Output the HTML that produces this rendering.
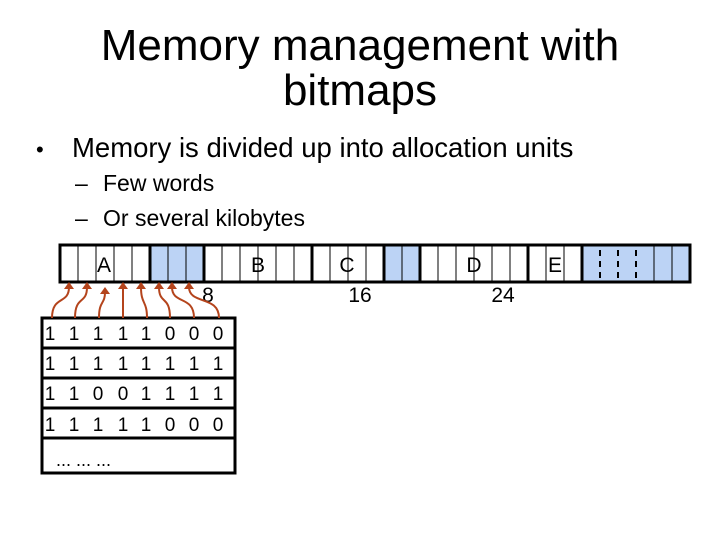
<!DOCTYPE html>
<html><head><meta charset="utf-8"><style>
html,body{margin:0;padding:0;background:#fff}
svg{display:block}
text{font-family:"Liberation Sans",Arial,sans-serif;fill:#000}
</style></head><body>
<svg width="720" height="540" viewBox="0 0 720 540" xmlns="http://www.w3.org/2000/svg">
<text x="360" y="60" font-size="44" text-anchor="middle">Memory management with</text>
<text x="360" y="105" font-size="44" text-anchor="middle">bitmaps</text>
<text x="36" y="157" font-size="22">•</text>
<text x="72" y="157" font-size="27.5">Memory is divided up into allocation units</text>
<text x="75" y="191" font-size="23">–</text>
<text x="103" y="191" font-size="23">Few words</text>
<text x="75" y="226" font-size="23">–</text>
<text x="103" y="226" font-size="23">Or several kilobytes</text>

<!-- strip fills -->
<rect x="150" y="245" width="54" height="37" fill="#bcd3f5"/>
<rect x="384" y="245" width="36" height="37" fill="#bcd3f5"/>
<rect x="582" y="245" width="108" height="37" fill="#bcd3f5"/>
<!-- thin cell lines -->
<g stroke="#000" stroke-width="1">
<line x1="78" y1="245" x2="78" y2="282"/><line x1="96" y1="245" x2="96" y2="282"/><line x1="114" y1="245" x2="114" y2="282"/><line x1="132" y1="245" x2="132" y2="282"/>
<line x1="168" y1="245" x2="168" y2="282"/><line x1="186" y1="245" x2="186" y2="282"/>
<line x1="222" y1="245" x2="222" y2="282"/><line x1="240" y1="245" x2="240" y2="282"/><line x1="258" y1="245" x2="258" y2="282"/><line x1="276" y1="245" x2="276" y2="282"/><line x1="294" y1="245" x2="294" y2="282"/>
<line x1="330" y1="245" x2="330" y2="282"/><line x1="348" y1="245" x2="348" y2="282"/><line x1="366" y1="245" x2="366" y2="282"/>
<line x1="402" y1="245" x2="402" y2="282"/>
<line x1="438" y1="245" x2="438" y2="282"/><line x1="456" y1="245" x2="456" y2="282"/><line x1="474" y1="245" x2="474" y2="282"/><line x1="492" y1="245" x2="492" y2="282"/><line x1="510" y1="245" x2="510" y2="282"/>
<line x1="546" y1="245" x2="546" y2="282"/><line x1="564" y1="245" x2="564" y2="282"/>
<line x1="654" y1="245" x2="654" y2="282"/><line x1="672" y1="245" x2="672" y2="282"/>
</g>
<g stroke="#000" stroke-width="2" stroke-dasharray="6,5">
<line x1="600" y1="250" x2="600" y2="282"/><line x1="618" y1="250" x2="618" y2="282"/><line x1="636" y1="250" x2="636" y2="282"/>
</g>
<!-- thick borders -->
<g stroke="#000" stroke-width="3" fill="none">
<rect x="60" y="245" width="630" height="37"/>
<line x1="150" y1="245" x2="150" y2="282"/><line x1="204" y1="245" x2="204" y2="282"/>
<line x1="312" y1="245" x2="312" y2="282"/><line x1="384" y1="245" x2="384" y2="282"/>
<line x1="420" y1="245" x2="420" y2="282"/><line x1="528" y1="245" x2="528" y2="282"/>
<line x1="582" y1="245" x2="582" y2="282"/>
</g>
<g font-size="21" text-anchor="middle">
<text x="104" y="272">A</text><text x="258" y="272">B</text><text x="347" y="272">C</text><text x="474" y="272">D</text><text x="555" y="272">E</text>
<text x="208" y="302">8</text><text x="360" y="302">16</text><text x="503" y="302">24</text>
</g>

<!-- bitmap table -->
<g stroke="#000" stroke-width="3" fill="none">
<rect x="42" y="318" width="193" height="155"/>
<line x1="42" y1="348" x2="235" y2="348"/><line x1="42" y1="378" x2="235" y2="378"/>
<line x1="42" y1="408" x2="235" y2="408"/><line x1="42" y1="438" x2="235" y2="438"/>
</g>
<g font-size="19" text-anchor="middle">
<text y="340"><tspan x="50">1</tspan><tspan x="74">1</tspan><tspan x="98">1</tspan><tspan x="123">1</tspan><tspan x="146">1</tspan><tspan x="170">0</tspan><tspan x="194">0</tspan><tspan x="218">0</tspan></text>
<text y="370"><tspan x="50">1</tspan><tspan x="74">1</tspan><tspan x="98">1</tspan><tspan x="123">1</tspan><tspan x="146">1</tspan><tspan x="170">1</tspan><tspan x="194">1</tspan><tspan x="218">1</tspan></text>
<text y="400"><tspan x="50">1</tspan><tspan x="74">1</tspan><tspan x="98">0</tspan><tspan x="123">0</tspan><tspan x="146">1</tspan><tspan x="170">1</tspan><tspan x="194">1</tspan><tspan x="218">1</tspan></text>
<text y="431"><tspan x="50">1</tspan><tspan x="74">1</tspan><tspan x="98">1</tspan><tspan x="123">1</tspan><tspan x="146">1</tspan><tspan x="170">0</tspan><tspan x="194">0</tspan><tspan x="218">0</tspan></text>
</g>
<text x="56" y="466" font-size="18">... ... ...</text>

<!-- arrows -->
<g stroke="#b4441c" stroke-width="2" fill="none">
<path d="M52 318 C52 295,69 305,69 287"/>
<path d="M75 318 C75 295,87 305,87 287"/>
<path d="M99 318 C99 300,105 305,105 292"/>
<path d="M123 318 L123 287"/>
<path d="M147 318 C147 300,141 305,141 287"/>
<path d="M170 318 C170 295,159 305,159 287"/>
<path d="M194 318 C194 295,172 305,172 287"/>
<path d="M219 318 C219 295,189 305,189 287"/>
</g>
<g fill="#b4441c">
<path d="M64 289 L69 282 L74 289Z"/><path d="M82 289 L87 282 L92 289Z"/><path d="M100 294 L105 287 L110 294Z"/><path d="M118 289 L123 282 L128 289Z"/>
<path d="M136 289 L141 282 L146 289Z"/><path d="M154 289 L159 282 L164 289Z"/><path d="M167 289 L172 282 L177 289Z"/><path d="M184 289 L189 282 L194 289Z"/>
</g>
</svg>
</body></html>
